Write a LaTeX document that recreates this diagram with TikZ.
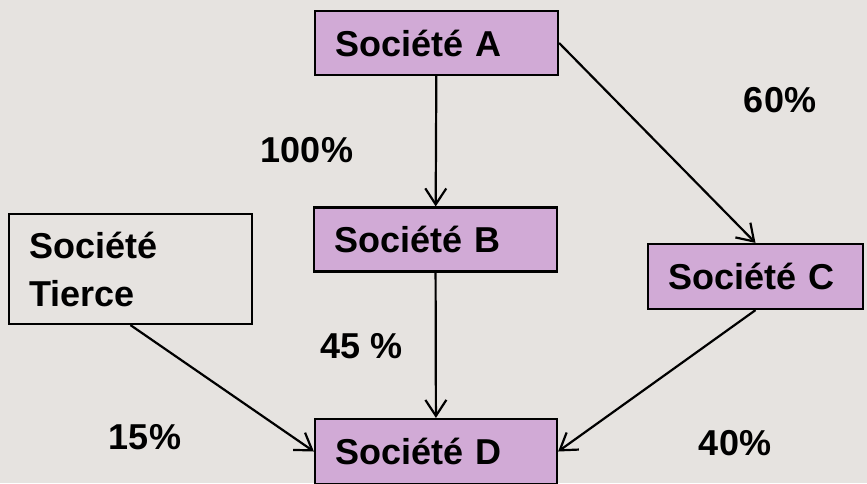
\documentclass[tikz,border=0pt]{standalone}
\usepackage{fontspec}
\setmainfont{Liberation Sans}
\usetikzlibrary{arrows.meta}

\definecolor{slidebg}{RGB}{230,227,224}
\definecolor{boxpurple}{RGB}{209,170,214}

\tikzset{
    societe/.style={draw=black, line width=1.1pt, fill=boxpurple, rectangle,
        inner xsep=10pt, inner ysep=0pt, align=left, anchor=center,
        font=\fontsize{18}{24}\selectfont\bfseries},
    tierce/.style={societe, fill=slidebg},
    pct/.style={font=\fontsize{18}{22}\selectfont\bfseries, inner sep=0pt},
    lien/.style={line width=1.1pt, -{Straight Barb[length=8pt,width=10.5pt]}}
}

\begin{document}
\begin{tikzpicture}[x=0.5pt, y=-0.5pt]
    \fill[slidebg] (0,0) rectangle (867,483);
    \useasboundingbox (0,0) rectangle (867,483);

    % societes
    \node[societe, text width=101.5pt, minimum height=32pt] (socA) at (436.5, 43) {Société A};
    \node[societe, text width=101.5pt, minimum height=32pt] (socB) at (435.5, 239.5) {Société B};
    \node[societe, text width=87.5pt, minimum height=32.5pt] (socC) at (755.5, 276.5) {Société C};
    \node[societe, text width=101pt, minimum height=32.5pt] (socD) at (436, 451.5) {Société D};
    \node[tierce, text width=101.5pt, minimum height=55pt] (socT) at (130.5, 269) {Société\\Tierce};

    % participations
    \draw[lien] (socA) -- (socB);
    \draw[lien] (socA.east) -- (socC.north);
    \draw[lien] (socB) -- (socD);
    \draw[lien] (socT.south) -- (socD.west);
    \draw[lien] (socC.south) -- (socD.east);

    \node[pct] (pctAB) at (307, 150) {100\%};
    \node[pct] (pctAC) at (780, 100) {60\%};
    \node[pct] (pctBD) at (362, 346) {45 \%};
    \node[pct] (pctTD) at (145, 437) {15\%};
    \node[pct] (pctCD) at (735, 443) {40\%};
\end{tikzpicture}
\end{document}
